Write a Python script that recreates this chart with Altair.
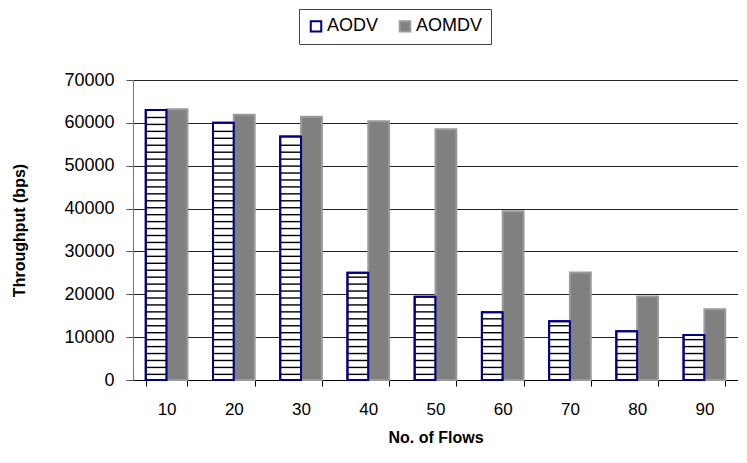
import altair as alt
import pandas as pd
import numpy as np

flows = ["10", "20", "30", "40", "50", "60", "70", "80", "90"]
aodv = [63000, 60000, 56800, 25000, 19400, 15800, 13700, 11400, 10500]
aomdv = [63200, 61900, 61400, 60400, 58500, 39400, 25100, 19500, 16500]
series = ["AODV", "AOMDV"]
y_ticks = [0, 10000, 20000, 30000, 40000, 50000, 60000, 70000]

rows = []
for f, a, b in zip(flows, aodv, aomdv):
    rows.append({"flows": f, "series": "AODV", "value": a})
    rows.append({"flows": f, "series": "AOMDV", "value": b})
df = pd.DataFrame(rows)

# horizontal hatch stripes inside the AODV bars (style decoration)
STEP = 1620
THICK = 330
stripes = []
for f, a in zip(flows, aodv):
    for lo in np.arange(1150, a - 600, STEP):
        stripes.append({"flows": f, "series": "AODV", "lo": float(lo), "hi": float(lo + THICK)})
sdf = pd.DataFrame(stripes)

FONT = "Liberation Sans"

x_enc = alt.X("flows:N", sort=flows,
              scale=alt.Scale(paddingInner=0.38, paddingOuter=0.19),
              axis=alt.Axis(title="No. of Flows", labelAngle=0, tickBand="extent",
                            tickSize=6, labelPadding=15, titlePadding=12,
                            labelFontSize=17, titleFontSize=16, titleFontWeight="bold",
                            domainColor="#000", tickColor="#000", labelColor="#000",
                            titleColor="#000", grid=False))
xo_enc = alt.XOffset("series:N", scale=alt.Scale(domain=series, paddingInner=0, paddingOuter=0))
y_scale = alt.Scale(domain=[0, 70000], nice=False)

bars = alt.Chart(df).mark_bar(strokeWidth=2).encode(
    x=x_enc,
    xOffset=xo_enc,
    y=alt.Y("value:Q", scale=y_scale,
            axis=alt.Axis(title="Throughput (bps)", values=y_ticks, format="d",
                          tickSize=7, labelPadding=12, titlePadding=36,
                          labelFontSize=18, titleFontSize=16, titleFontWeight="bold",
                          grid=True, gridColor="#222", gridWidth=1,
                          domainColor="#777", tickColor="#555", labelColor="#000",
                          titleColor="#000")),
    fill=alt.Fill("series:N", scale=alt.Scale(domain=series, range=["#ffffff", "#808080"]),
                  legend=alt.Legend(title=None, orient="none", direction="horizontal",
                                    legendX=166, legendY=-71, strokeColor="#444",
                                    padding=8, labelFontSize=18, labelFont=FONT,
                                    symbolType="square", symbolSize=110,
                                    symbolStrokeWidth=2, labelOffset=2, columnPadding=16,
                                    labelColor="#000")),
    stroke=alt.Stroke("series:N", scale=alt.Scale(domain=series, range=["#000080", "#9a9a9a"])),
)

stripe_layer = alt.Chart(sdf).mark_bar(color="#000").encode(
    x=alt.X("flows:N", sort=flows),
    xOffset=alt.XOffset("series:N", scale=alt.Scale(domain=series)),
    y=alt.Y("lo:Q", scale=y_scale),
    y2="hi:Q",
)

outline = alt.Chart(df).transform_filter(alt.datum.series == "AODV").mark_bar(
    fillOpacity=0, stroke="#000080", strokeWidth=2
).encode(
    x=alt.X("flows:N", sort=flows),
    xOffset=alt.XOffset("series:N", scale=alt.Scale(domain=series)),
    y=alt.Y("value:Q", scale=y_scale),
)

chart = alt.layer(bars, stripe_layer, outline).properties(
    width=605, height=300,
    autosize=alt.AutoSizeParams(type="none"),
    padding={"left": 125, "top": 72, "right": 0, "bottom": 70},
).configure_view(stroke=None).configure(font=FONT, background="white")

chart.save("out.html", embed_options={"renderer": "svg", "actions": False})
